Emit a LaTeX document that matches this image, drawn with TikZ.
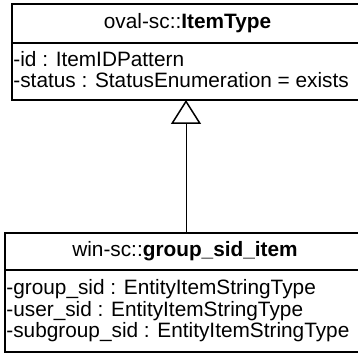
\documentclass[tikz,border=0pt]{standalone}
\usepackage{fontspec}
\setmainfont{Liberation Sans}
\usetikzlibrary{arrows.meta}
\begin{document}
\begin{tikzpicture}[x=1pt,y=-1pt,
  box/.style={draw=black,line width=2pt,inner sep=0pt},
  sep/.style={draw=black,line width=2pt},
  attr/.style={anchor=west,inner sep=0pt,font=\fontsize{20.8}{24}\selectfont},
  head/.style={inner sep=0pt,font=\fontsize{20.8}{24}\selectfont},
  gen/.style={draw=black,line width=1pt,-{Triangle[open,width=30pt,length=24pt,line width=1.5pt]}}]
\useasboundingbox (0,0) rectangle (358,355);
\clip (0,0) rectangle (358,355);
% top class
\draw[box] (11.5,4) rectangle (363.5,100);
\coordinate (tTop) at (186,100);
\draw[sep] (11.5,43) -- (363.5,43);
\node[head] (th) at (187.5,23.5) {oval-sc::\textbf{ItemType}};
\node[attr] (ta1) at (13.2,59) {-id : ItemIDPattern};
\node[attr] (ta2) at (13.2,80.5) {-status : StatusEnumeration = exists};
% bottom class
\draw[box] (4.5,232.5) rectangle (365.5,352);
\coordinate (bTop) at (186,232.5);
\draw[sep] (4.5,270) -- (365.5,270);
\node[head] (bh) at (185,251.5) {win-sc::\textbf{group\_sid\_item}};
\node[attr] (ba1) at (6.2,289.5) {-group\_sid : EntityItemStringType};
\node[attr] (ba2) at (6.2,311) {-user\_sid : EntityItemStringType};
\node[attr] (ba3) at (6.2,332.5) {-subgroup\_sid : EntityItemStringType};
% generalization
\draw[gen] (bTop) -- (tTop);
\end{tikzpicture}
\end{document}
